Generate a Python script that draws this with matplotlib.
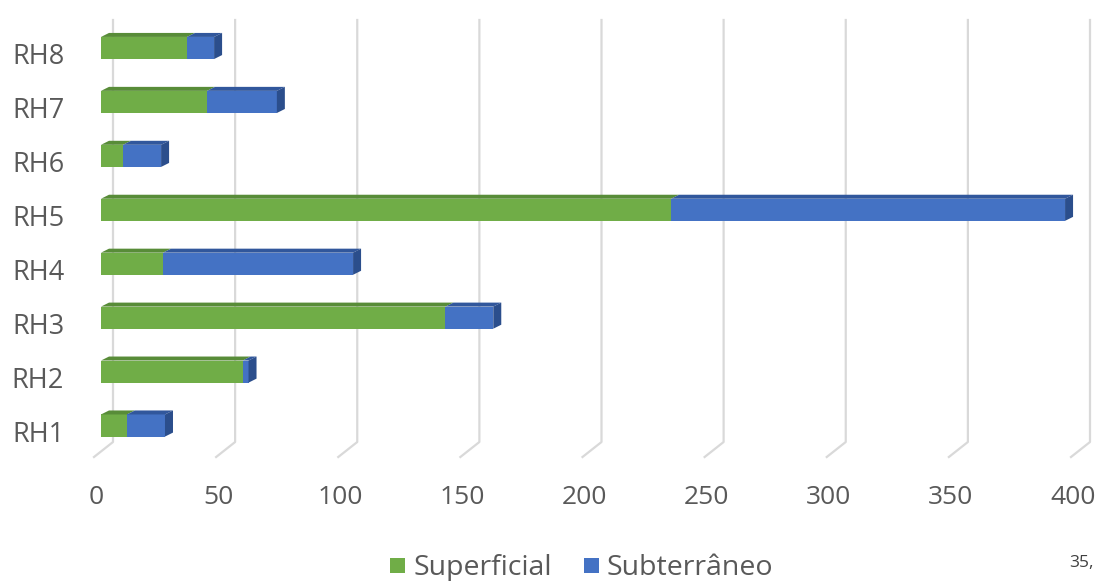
import matplotlib
matplotlib.use("Agg")
import matplotlib.pyplot as plt
from matplotlib.patches import Polygon, Rectangle
from matplotlib.transforms import IdentityTransform, ScaledTranslation

# ---- data -------------------------------------------------------------
categories = ["RH1", "RH2", "RH3", "RH4", "RH5", "RH6", "RH7", "RH8"]
superficial = [10.6, 58, 141, 25.4, 233.4, 9, 43.4, 35.2]
subterraneo = [15.6, 2.4, 19.6, 77.8, 161.3, 15.6, 28.6, 11.1]
series_names = ["Superficial", "Subterrâneo"]
x_ticks = [0, 50, 100, 150, 200, 250, 300, 350, 400]
stray_note = "35,"

# ---- style ------------------------------------------------------------
W, H, DPI = 1097, 581, 100
FONT = ["Open Sans", "DejaVu Sans"]
TEXT_COLOR = "#595959"
GRID_COLOR = "#D9D9D9"
front_colors = ["#70AD47", "#4472C4"]
top_colors = ["#588C38", "#31579C"]
side_colors = ["#4E7A30", "#2B4E8C"]
BAR_H = 0.41                 # bar thickness in category units
DEPTH = (8, 4)               # bar depth (px right, px up)
WALL = (12, 10)              # back wall offset from bar plane (px)
FLOOR = (-7, -5)             # floor front edge offset from bar plane (px)

plt.rcParams["font.family"] = FONT
fig = plt.figure(figsize=(W / DPI, H / DPI), dpi=DPI)
ax = fig.add_axes([101 / W, 1 - 452 / H, (1078 - 101) / W, (452 - 20) / H])
ax.set_xlim(0, 400)
ax.set_ylim(-0.491, 7.519)
for s in ax.spines.values():
    s.set_visible(False)
ax.set_facecolor("none")

ident = IdentityTransform()


def disp(v, i):
    return ax.transData.transform((v, i))


# gridlines on the back wall with a slanted foot on the floor
bottom_y = ax.transAxes.transform((0, 0))[1]
top_y = ax.transAxes.transform((0, 1))[1]
for v in x_ticks:
    x = disp(v, 0)[0]
    xs = [x + WALL[0], x + WALL[0], x + FLOOR[0]]
    ys = [top_y, bottom_y + WALL[1], bottom_y + FLOOR[1]]
    ax.add_line(plt.Line2D(xs, ys, transform=ident, color=GRID_COLOR,
                           lw=1.6, zorder=1, clip_on=False))

# stacked bars with top and end faces
dx, dy = DEPTH
for i, vals in enumerate(zip(superficial, subterraneo)):
    left = 0
    n = len(vals)
    for k, val in enumerate(vals):
        right = left + val
        (x0, y0), (x1, y1) = disp(left, i - BAR_H / 2), disp(right, i + BAR_H / 2)
        ax.add_patch(Rectangle((x0, y0), x1 - x0, y1 - y0, transform=ident,
                               facecolor=front_colors[k], edgecolor="none",
                               zorder=3, clip_on=False))
        ax.add_patch(Polygon([(x0, y1), (x1, y1), (x1 + dx, y1 + dy),
                              (x0 + dx, y1 + dy)], closed=True,
                             transform=ident, facecolor=top_colors[k],
                             edgecolor="none", zorder=3, clip_on=False))
        if k == n - 1:
            ax.add_patch(Polygon([(x1, y0), (x1, y1), (x1 + dx, y1 + dy),
                                  (x1 + dx, y0 + dy)], closed=True,
                                 transform=ident, facecolor=side_colors[k],
                                 edgecolor="none", zorder=3, clip_on=False))
        left = right

# axis labels
ax.set_xticks(x_ticks)
ax.set_xticklabels([str(t) for t in x_ticks])
ax.set_yticks(range(len(categories)))
ax.set_yticklabels(categories)
ax.tick_params(length=0, labelsize=19, colors=TEXT_COLOR)
ax.tick_params(axis="x", pad=24)
ax.tick_params(axis="y", labelsize=19.5, pad=26.5)
shift_x = ScaledTranslation(-5 / DPI, 0, fig.dpi_scale_trans)
for lab in ax.get_xticklabels():
    lab.set_transform(lab.get_transform() + shift_x)
shift_y = ScaledTranslation(0, -6 / DPI, fig.dpi_scale_trans)
for lab in ax.get_yticklabels():
    lab.set_transform(lab.get_transform() + shift_y)

# legend
legend_base = 1 - 575 / H
SQ = 15
legend_items = [(390, 413), (584, 607)]
for (sx, tx), name, col in zip(legend_items, series_names, front_colors):
    fig.patches.append(Rectangle((sx / W, 1 - 573 / H), SQ / W, SQ / H,
                                 transform=fig.transFigure, facecolor=col,
                                 edgecolor="none"))
    fig.text(tx / W, legend_base, name, fontsize=20.5, color=TEXT_COLOR,
             ha="left", va="baseline")

fig.text(1069 / W, 1 - 563 / H, stray_note, fontsize=12.5, color="#404040",
         ha="left", va="center")

fig.savefig("out.png", dpi=DPI)
